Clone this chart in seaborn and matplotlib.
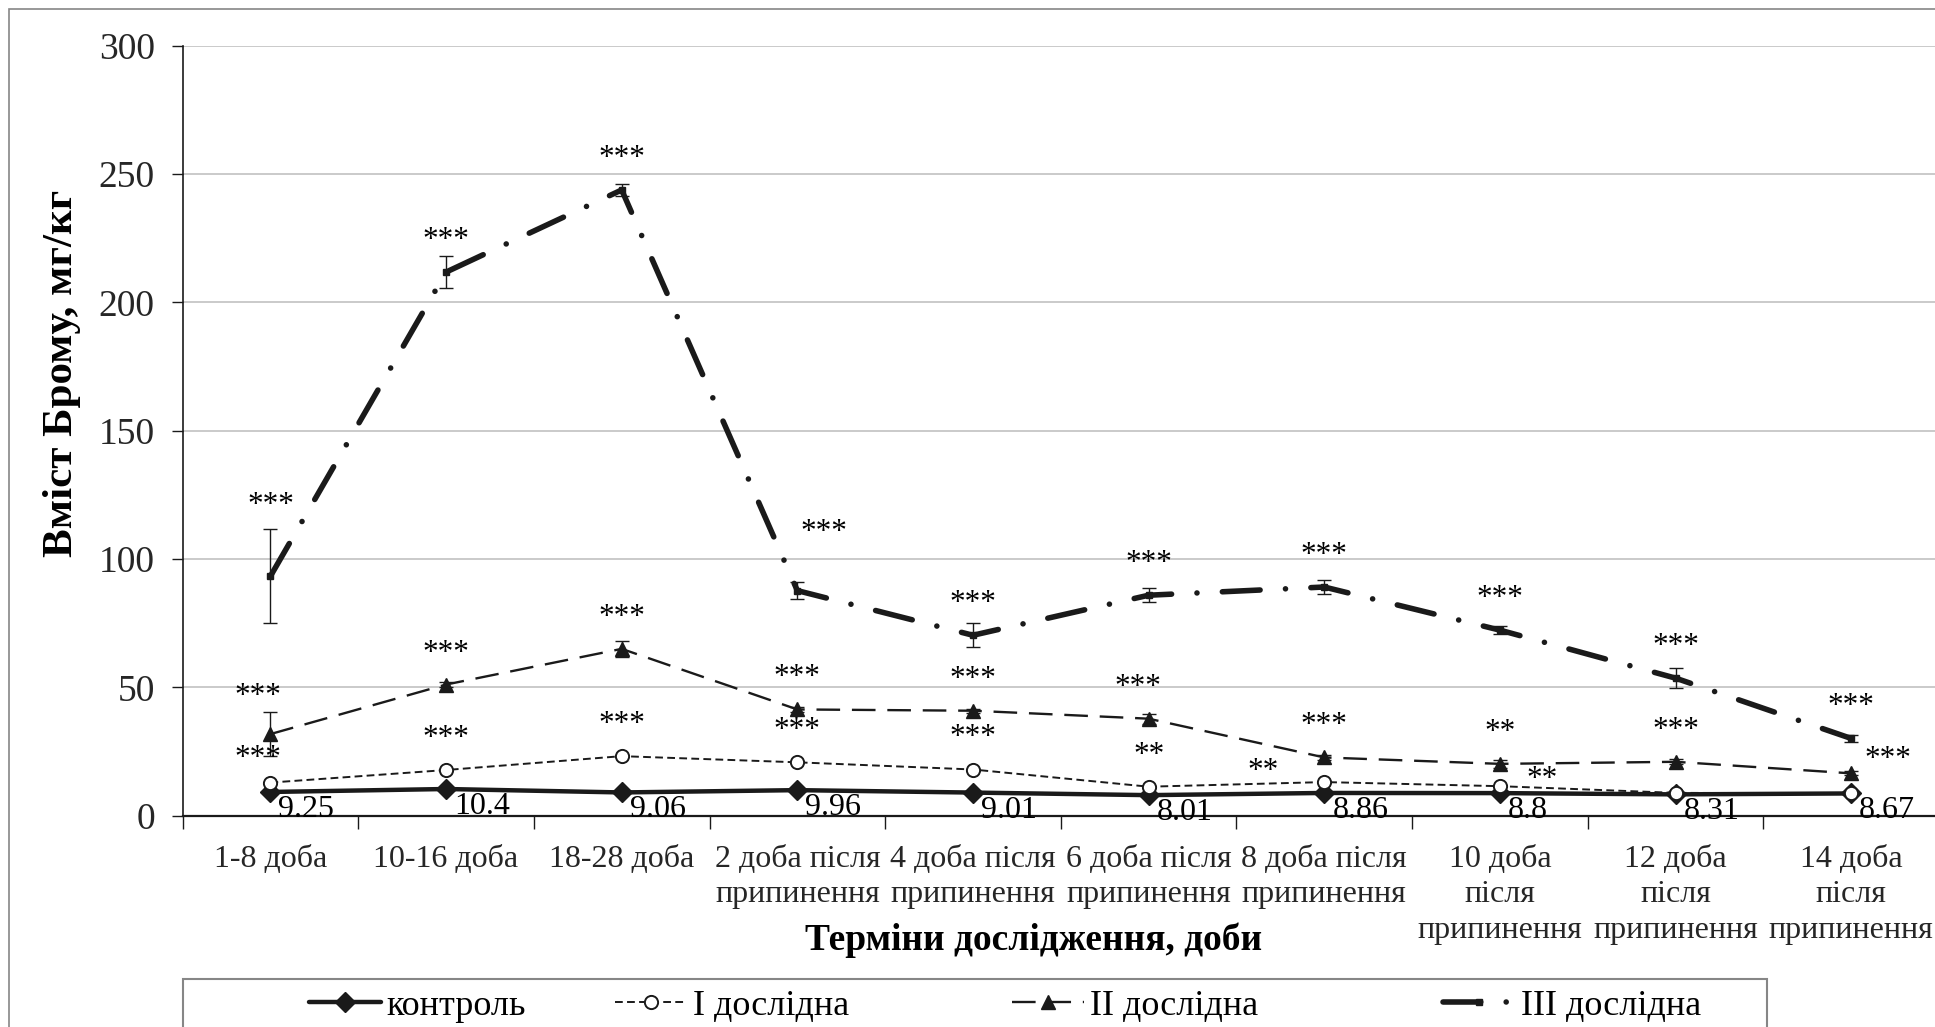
import numpy as np
import pandas as pd
import seaborn as sns
import matplotlib.pyplot as plt
from matplotlib.patches import Rectangle
from matplotlib.lines import Line2D

# ---- data -------------------------------------------------------------
periods = [
    "1-8 доба", "10-16 доба", "18-28 доба",
    "2 доба після\nприпинення", "4 доба після\nприпинення",
    "6 доба після\nприпинення", "8 доба після\nприпинення",
    "10 доба\nпісля\nприпинення", "12 доба\nпісля\nприпинення",
    "14 доба\nпісля\nприпинення",
]
series_names = ["контроль", "І дослідна", "ІІ дослідна", "ІІІ дослідна"]

control = [9.25, 10.4, 9.06, 9.96, 9.01, 8.01, 8.86, 8.8, 8.31, 8.67]
group1 = [12.9, 17.8, 23.2, 20.8, 18.0, 11.3, 13.1, 11.5, 8.9, 8.7]
group2 = [31.8, 51.1, 65.0, 41.4, 40.9, 37.8, 22.7, 20.2, 21.0, 16.5]
group2_err = [8.5, 1.0, 3.2, 1.0, 0.8, 2.0, 1.0, 1.5, 1.0, 0.8]
group3 = [93.3, 211.8, 243.8, 87.7, 70.3, 85.9, 89.1, 72.3, 53.6, 30.1]
group3_err = [18.3, 6.3, 2.5, 3.2, 4.6, 2.7, 2.8, 1.5, 3.8, 1.5]

sig1 = ["***", "***", "***", "***", "***", "**", "**", "**", "", ""]
sig2 = ["***", "***", "***", "***", "***", "***", "***", "**", "***", "***"]
sig3 = ["***"] * 10

y_ticks = [0, 50, 100, 150, 200, 250, 300]

# ---- style ------------------------------------------------------------
sns.set_theme(style="white")
plt.rcParams["font.family"] = ["Liberation Serif", "DejaVu Serif"]
plt.rcParams["text.color"] = "black"

W, H = 1935, 1027
fig = plt.figure(figsize=(W / 100, H / 100), dpi=100)
ax = fig.add_axes([182.6 / W, 1 - 815.7 / H, (1939 - 182.6) / W, (815.7 - 45.7) / H])

x = np.arange(len(periods))
df = pd.DataFrame({"x": x, "control": control, "g1": group1,
                   "g2": group2, "g3": group3})

# error bars
ax.errorbar(x, group2, yerr=group2_err, fmt="none", ecolor="k",
            elinewidth=1, capsize=5, capthick=1, zorder=4)
ax.errorbar(x, group3, yerr=group3_err, fmt="none", ecolor="k",
            elinewidth=1, capsize=5, capthick=1, zorder=5)

styles = [
    dict(lw=3.2, marker="D", ms=10, markerfacecolor="k",
         markeredgecolor="k", markeredgewidth=1),
    dict(lw=1.4, linestyle=(0, (4, 2.2)), marker="o", ms=9.5,
         markerfacecolor="white", markeredgecolor="k", markeredgewidth=1.4),
    dict(lw=1.7, linestyle=(0, (10, 5)), marker="^", ms=10,
         markerfacecolor="k", markeredgecolor="k", markeredgewidth=1),
    dict(lw=4, linestyle=(0, (6.8, 4.57, 0.01, 4.57)), dash_capstyle="round",
         marker="s", ms=5, markerfacecolor="k", markeredgecolor="k",
         markeredgewidth=1),
]
for z, (col, st) in enumerate(zip(["control", "g1", "g2", "g3"], styles)):
    sns.lineplot(data=df, x="x", y=col, ax=ax, errorbar=None, sort=False,
                 legend=False, color="k", zorder=3 + z, **st)

# significance marks above the points
PX = 0.72  # points per pixel at 100 dpi
default_lift = 39
overrides = {
    (3, 0): (0.0, 78), (3, 3): (0.15, 66),
    (2, 0): (-0.07, 45), (2, 5): (-0.06, 39), (2, 9): (0.21, 21),
    (1, 0): (-0.07, 32), (1, 6): (-0.35, 18), (1, 7): (0.24, 14),
}
for s, (vals, marks) in enumerate([(group1, sig1), (group2, sig2),
                                   (group3, sig3)], start=1):
    for i, (v, m) in enumerate(zip(vals, marks)):
        if not m:
            continue
        dx, lift = overrides.get((s, i), (0.0, default_lift))
        ax.annotate(m, (i + dx, v), xytext=(0, (lift - 15) * PX),
                    textcoords="offset points", ha="center", va="baseline",
                    fontsize=22.5, zorder=8)

# value labels of the control series
for i, v in enumerate(control):
    ax.annotate(f"{v:g}", (i, v), xytext=(8 * PX, -25 * PX),
                textcoords="offset points", ha="left", va="baseline",
                fontsize=23, zorder=8)

# ---- axes -------------------------------------------------------------
ax.set_xlim(-0.5, len(periods) - 0.5)
ax.set_ylim(0, 300)
ax.set_yticks(y_ticks)
ax.set_yticklabels([str(t) for t in y_ticks])
ax.set_xticks(np.arange(-0.5, len(periods), 1.0))
ax.set_xticklabels([])
ax.set_xticks(x, minor=True)
ax.set_xticklabels(periods, minor=True, linespacing=1.3)
ax.tick_params(axis="x", which="major", length=9, width=1, color="k",
               direction="out", bottom=True)
ax.tick_params(axis="x", which="minor", length=0, pad=21, labelsize=23)
ax.tick_params(axis="y", length=8, width=1, color="k", direction="out",
               left=True, pad=12, labelsize=27)
ax.set_xlabel("")
ax.set_ylabel("")
ax.yaxis.grid(True, color="#c6c6c6", lw=1.3)
ax.xaxis.grid(False)
ax.set_axisbelow(True)
for side in ("top", "right"):
    ax.spines[side].set_visible(False)
ax.spines["left"].set_color("k")
ax.spines["left"].set_linewidth(1.2)
ax.spines["bottom"].set_color("k")
ax.spines["bottom"].set_linewidth(1.6)
ax.patch.set_alpha(0)

fig.text(62 / W, 1 - 373 / H, "Вміст Брому, мг/кг", rotation=90,
         ha="center", va="center", fontsize=31, fontweight="bold")
fig.text(1034 / W, 1 - 940 / H, "Терміни дослідження, доби",
         ha="center", va="center", fontsize=27, fontweight="bold")

# chart frame and legend box
fig.patches.append(Rectangle((9 / W, -0.1), 1.2, 1.1 - 9 / H,
                             transform=fig.transFigure, fill=False,
                             edgecolor="#868686", lw=1.2))
fig.patches.append(Rectangle((182.6 / W, -0.1), (1767 - 182.6) / W,
                             0.1 + 1 - 978.6 / H, transform=fig.transFigure,
                             fill=False, edgecolor="#868686", lw=1.5))

# one legend entry per series, laid out along the box
entry_left = [309, 615, 1012, 1443]
for name, st, left in zip(series_names, styles, entry_left):
    h = Line2D([], [], color="k", **st)
    fig.legend([h], [name], loc="center left",
               bbox_to_anchor=(left / W, 1 - 1006 / H), frameon=False,
               fontsize=26, handlelength=2.0, handletextpad=0.15,
               borderpad=0, borderaxespad=0)

fig.savefig("out.png", dpi=100)
